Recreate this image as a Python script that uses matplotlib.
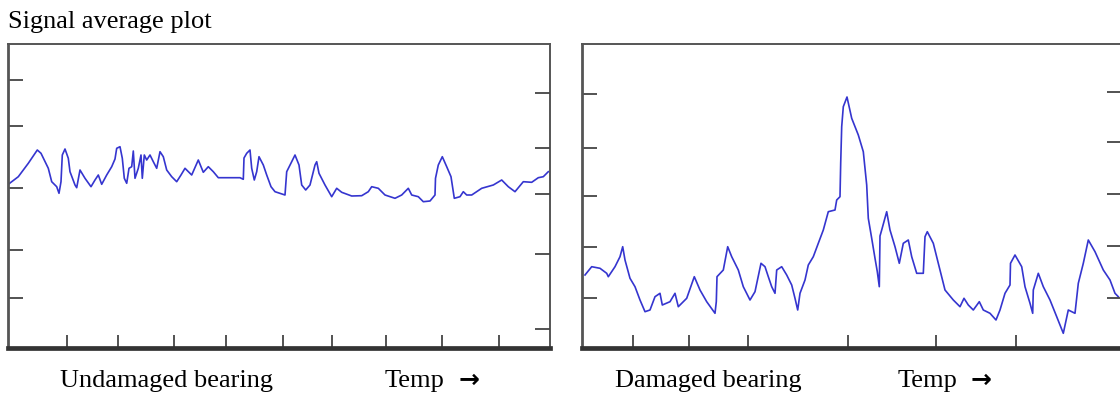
import matplotlib
matplotlib.use("Agg")
import matplotlib.pyplot as plt

# undamaged bearing signal average (temp index, signal)
undamaged_x = [0.3, 10.3, 20.3, 29.3, 33, 40.3, 43.7, 48.7, 51, 53, 54.3, 57, 60.3, 62, 67,
               68.7, 72, 77, 83, 87, 90.3, 93.7, 98.7, 103.7, 107, 108.7, 112, 114.3, 116.3,
               118.7, 121, 123.7, 125.3, 127, 130.3, 133, 134.3, 136.3, 138.7, 142, 145.3,
               148.7, 152, 155.3, 158.7, 163.7, 168.7, 173, 177, 183.7, 190.3, 195.3, 200.3,
               205.3, 210.3, 220.3, 232, 235.3, 236, 238.7, 242, 243.7, 246.3, 248.7, 251,
               255.3, 258.7, 263, 267, 277, 278.7, 283.7, 287, 291, 293.7, 297.7, 302, 307,
               308.7, 311, 317, 323.7, 328.7, 333.7, 343.7, 353.7, 360.3, 363.7, 370.3, 377,
               387, 393.7, 400.3, 403.7, 410.3, 415.3, 422, 427, 427.5, 430.3, 434.3, 438.7,
               443, 446.3, 452, 455.3, 458.7, 463.7, 473.7, 485.3, 493.7, 500.3, 507, 515.3,
               523.7, 530.3, 535.3, 540.3]
undamaged_y = [163.7, 171.3, 184.7, 198, 194.7, 179.7, 166.3, 161.3, 154.7, 166.3, 193, 199,
               189.7, 176.3, 163, 160.3, 178, 169.7, 161.3, 168, 173, 163.7, 173, 181.3, 189,
               199.7, 201.3, 189.7, 169.7, 164.7, 179.7, 181.3, 197, 169.7, 179.7, 193, 169.7,
               193, 188, 193, 186.3, 179.7, 196.3, 191.3, 178, 171.3, 166.3, 173, 179.7, 173,
               188, 175.7, 181.3, 176.3, 170.3, 170.3, 170.3, 168.7, 190, 194.7, 198, 179.7,
               168, 176.3, 191.3, 183, 173, 161.3, 156.3, 153, 176.3, 186.3, 193, 183, 163,
               158, 163, 183, 186.3, 174.7, 163, 151.3, 159.7, 155.7, 152, 152.3, 156.3,
               161.3, 159.7, 153, 149.7, 153, 159.7, 153, 151.3, 146.3, 147, 153, 169.7, 183,
               191.3, 181.3, 171.3, 149.7, 151.3, 156.3, 153, 153, 159.7, 163, 168, 161.3,
               156.3, 166.3, 165.7, 170.3, 171.3, 176.3]

# damaged bearing signal average (temp index, signal)
damaged_x = [3, 9.7, 18, 24.7, 26.3, 33, 38, 40.7, 43, 48, 53, 58, 63, 68, 73, 78, 80.3, 88,
             93, 96.3, 104.7, 112.3, 118, 124.7, 133, 134.3, 135, 141.3, 145.7, 149.7, 156.3,
             161.3, 168, 173, 179, 183, 186.3, 189.7, 193, 194.7, 199.7, 204.7, 209.7, 213,
             215.7, 218, 223, 226.3, 231.3, 236.3, 241.3, 246.3, 253, 254.7, 258, 258.7,
             259.7, 261.3, 265, 269.7, 276.3, 281.3, 284.7, 286.3, 289.7, 293, 295.3, 297.3,
             298, 299.7, 304.7, 308, 313, 317.3, 321.3, 326.3, 329.7, 334.7, 341.3, 343,
             345.3, 351.3, 356.3, 363, 371.3, 378, 382, 386.3, 391.3, 397.3, 401.3, 408, 414,
             418, 423, 428, 428.5, 433, 439.7, 443, 448, 450.7, 451.3, 456.3, 461.3, 468,
             474.7, 481.3, 486.3, 493, 496.3, 501.3, 506.3, 513, 521.3, 528, 533, 536.3]
damaged_y = [73, 81.3, 79.7, 74.7, 71.3, 81.3, 91.3, 101.3, 88, 69.7, 61.3, 48, 36.3, 38,
             51.3, 54.7, 43, 46.3, 54.7, 41.3, 49.7, 71.3, 58, 46.3, 34.7, 46.3, 71.3, 78,
             101.3, 91.3, 78, 61.3, 48, 56.3, 84.7, 81.3, 71.3, 61.3, 54.7, 78, 81.3, 73, 63,
             49.7, 38, 54.7, 68, 83, 91.3, 104.7, 118, 136.3, 138, 148, 151.3, 185, 221.3,
             241.3, 251, 229.7, 213, 196.3, 163, 129.7, 109.7, 89.7, 76.3, 61.3, 112, 118,
             136.3, 118, 101.3, 84.7, 104.7, 108, 91.3, 74.7, 74.7, 111.3, 116.3, 104.7, 84.7,
             58, 48, 41.3, 49.7, 43, 38, 46.3, 38, 34.7, 28, 38, 54.7, 63, 84.7, 93, 81.3,
             61.3, 44.7, 34.7, 58, 74.7, 61.3, 48, 31.3, 14.7, 38, 34.7, 64.7, 84.7, 108,
             96.3, 78, 68, 54.7, 51.3]

undamaged_xticks = [59, 110, 166, 218, 275, 324, 378, 434, 491]
undamaged_lticks = [268, 222, 160, 98, 50]
undamaged_rticks = [255, 200, 154, 94, 19]
damaged_xticks = [51, 107, 166, 266, 354, 434]
damaged_lticks = [254, 200, 152, 101, 50]
damaged_rticks = [256, 206, 154, 102, 50]

LINE = '#3535cf'
FRAME = '#555555'
serif = ['Liberation Serif', 'DejaVu Serif']


def draw_panel(ax, x, y, xmax, xticks, lticks, rticks):
    ax.plot(x, y, color=LINE, lw=1.2)
    ax.set_xlim(0, xmax)
    ax.set_ylim(0, 304)
    for side in ['top', 'right', 'left']:
        ax.spines[side].set_color(FRAME)
        ax.spines[side].set_linewidth(1.4)
    ax.spines['left'].set_linewidth(2.0)
    ax.spines['bottom'].set_color('#333333')
    ax.spines['bottom'].set_linewidth(3.4)
    ax.set_xticks(xticks)
    ax.set_yticks(lticks)
    ax.set_xticklabels([])
    ax.set_yticklabels([])
    ax.tick_params(axis='y', direction='in', length=11, width=1.3, color='#444444')
    ax.tick_params(axis='x', direction='in', length=9.5, width=1.3, color='#444444')
    tw = ax.twinx()
    tw.set_ylim(0, 304)
    tw.set_yticks(rticks)
    tw.set_yticklabels([])
    tw.tick_params(axis='y', direction='in', length=11, width=1.3, color='#444444')
    for s in tw.spines.values():
        s.set_visible(False)


fig = plt.figure(figsize=(11.2, 3.97), dpi=100)
ax1 = fig.add_axes([8 / 1120, 49 / 397, 542 / 1120, 304 / 397])
ax2 = fig.add_axes([582 / 1120, 49 / 397, 540 / 1120, 304 / 397])

draw_panel(ax1, undamaged_x, undamaged_y, 542, undamaged_xticks, undamaged_lticks, undamaged_rticks)
draw_panel(ax2, damaged_x, damaged_y, 540, damaged_xticks, damaged_lticks, damaged_rticks)

fig.text(8 / 1120, 1 - 22 / 397, 'Signal average plot', family=serif, fontsize=19,
         ha='left', va='center')
labels = [(60, 'Undamaged bearing'), (385, 'Temp'), (615, 'Damaged bearing'), (898, 'Temp')]
for xpx, txt in labels:
    fig.text(xpx / 1120, 1 - 381 / 397, txt, family=serif, fontsize=19,
             ha='left', va='center')
for xpx in [459, 971]:
    fig.text(xpx / 1120, 1 - 380 / 397, '\u2192', family='DejaVu Sans', fontsize=18,
             fontweight='bold', ha='left', va='center')

fig.savefig('out.png', dpi=100)
